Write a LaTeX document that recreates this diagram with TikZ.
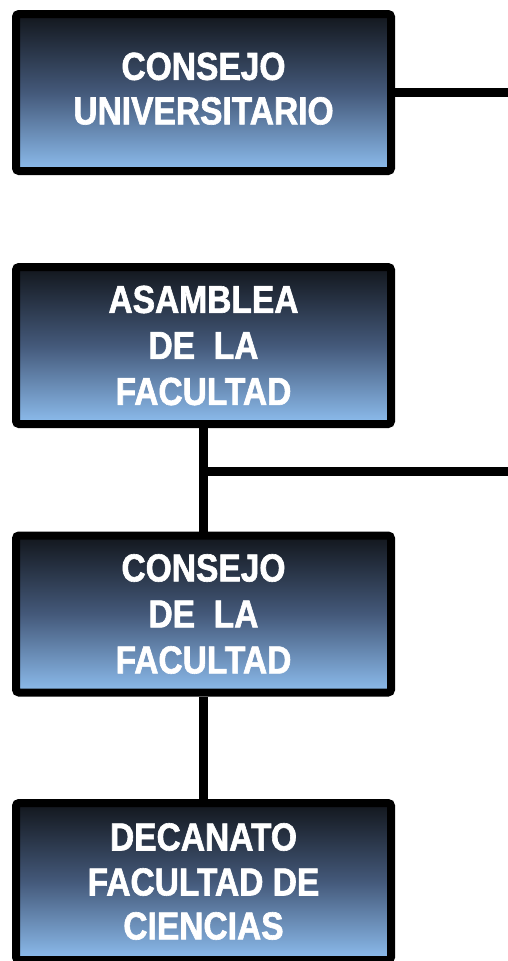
\documentclass[tikz,border=0pt]{standalone}
\usepackage{fontspec}
\setmainfont{Liberation Sans}[FakeStretch=0.86, BoldFeatures={FakeBold=1.6}]
\begin{document}
\begin{tikzpicture}[x=1pt,y=1pt,
  orgbox/.style={rectangle, rounded corners=3pt, draw=black, line width=8pt,
    minimum width=375pt, minimum height=157pt, inner sep=0pt,
    top color=boxtop, bottom color=boxbot, middle color=boxmid,
    text=white, align=center,
    font=\fontsize{39pt}{46pt}\selectfont\bfseries},
  conn/.style={draw=black, line width=9pt}]
\definecolor{boxtop}{HTML}{12161C}
\definecolor{boxmid}{HTML}{44597A}
\definecolor{boxbot}{HTML}{8DBDEE}
\useasboundingbox (0,0) rectangle (508,-961);
\node[orgbox] (b1) at (203.5,-92.5) {CONSEJO\\[-1.5pt]UNIVERSITARIO\\[-38pt]\mbox{}};
\node[orgbox] (b2) at (203.5,-345.5) {ASAMBLEA\\DE\ \ LA\\FACULTAD};
\node[orgbox] (b3) at (203.5,-614) {CONSEJO\\DE\ \ LA\\FACULTAD};
\node[orgbox] (b4) at (203.5,-881.5) {DECANATO\\[-1pt]FACULTAD DE\\[-2pt]CIENCIAS};
\coordinate (e1) at (508,-92.5);
\coordinate (j) at (203.5,-471.5);
\coordinate (e2) at (508,-471.5);
\draw[conn] (b1.east) -- (e1);
\draw[conn] (b2.south) -- (b3.north);
\draw[conn] (j) -- (e2);
\draw[conn] (b3.south) -- (b4.north);
\end{tikzpicture}
\end{document}
